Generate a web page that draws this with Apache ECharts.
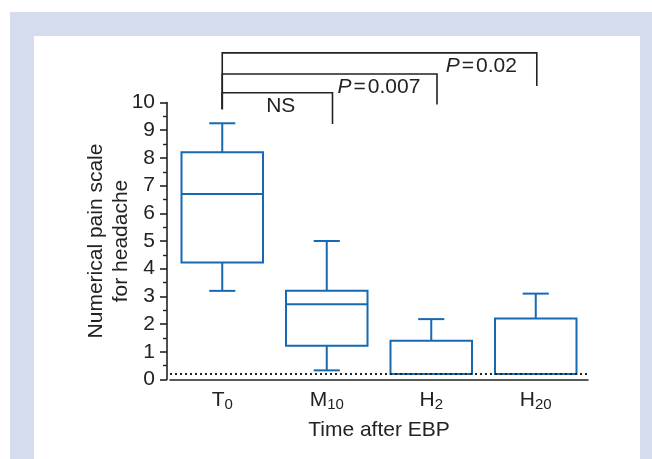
<!DOCTYPE html>
<html>
<head>
<meta charset="utf-8">
<script src="https://cdn.jsdelivr.net/npm/echarts@6/dist/echarts.min.js"></script>
<style>html,body{margin:0;padding:0;background:#fff;}#c{width:652px;height:459px;}</style>
</head>
<body>
<div id="c"></div>
<script>
// ---- data ----
var catBase = ['T', 'M', 'H', 'H'];
var catSub = ['0', '10', '2', '20'];
// [low whisker, Q1, median, Q3, high whisker]
var boxT0 = [3.2, 4.22, 6.7, 8.2, 9.25];
var boxM10 = [0.33, 1.22, 2.72, 3.2, 5.0];
var boxH2 = [0.2, 0.2, 0.2, 1.4, 2.18];
var boxH20 = [0.2, 0.2, 0.2, 2.2, 3.1];
var refLevel = 0.2;
var yTicks = [0, 1, 2, 3, 4, 5, 6, 7, 8, 9, 10];
var compFrom = [0, 0, 0];
var compTo = [1, 2, 3];
var compLabel = ['NS', 'P=0.007', 'P=0.02'];

// ---- layout of annotation brackets (data units) ----
var brLevel = [10.35, 11.03, 11.79];
var brRightOffset = [0.055, 0.055, 0.01];
var brRightDrop = [9.22, 9.93, 10.6];
var brLeftDrop = 9.76;
var lblX = [0.56, 1.5, 2.48];
var lblY = [9.85, 10.57, 11.32];

var BLUE = '#1769b4';
var FONT = '"Liberation Sans", Arial, sans-serif';
var TXT = '#222';
var FS = 21;

var categories = catBase.map(function (b, i) { return b + catSub[i]; });
var boxes = [boxT0, boxM10, boxH2, boxH20];
var boxData = boxes.map(function (b, i) { return [i].concat(b); });

function renderBox(params, api) {
  var x = api.value(0);
  var low = api.coord([x, api.value(1)]);
  var q1 = api.coord([x, api.value(2)]);
  var med = api.coord([x, api.value(3)]);
  var q3 = api.coord([x, api.value(4)]);
  var high = api.coord([x, api.value(5)]);
  var band = api.size([1, 0])[0];
  var hw = band * 0.39, cw = band * 0.125;
  var cx = q1[0];
  var st = { stroke: BLUE, lineWidth: 2, fill: null };
  var ch = [
    { type: 'rect', shape: { x: cx - hw, y: q3[1], width: 2 * hw, height: q1[1] - q3[1] }, style: st },
    { type: 'line', shape: { x1: cx - hw, y1: med[1], x2: cx + hw, y2: med[1] }, style: st },
    { type: 'line', shape: { x1: cx, y1: q3[1], x2: cx, y2: high[1] }, style: st },
    { type: 'line', shape: { x1: cx - cw, y1: high[1], x2: cx + cw, y2: high[1] }, style: st }
  ];
  if (low[1] - q1[1] > 0.5) {
    ch.push({ type: 'line', shape: { x1: cx, y1: q1[1], x2: cx, y2: low[1] }, style: st });
    ch.push({ type: 'line', shape: { x1: cx - cw, y1: low[1], x2: cx + cw, y2: low[1] }, style: st });
  }
  return { type: 'group', children: ch };
}

function renderBracket(params, api) {
  var i = params.dataIndex;
  var band = api.size([1, 0])[0];
  var pL = api.coord([compFrom[i], brLevel[i]]);
  var pR = api.coord([compTo[i], brLevel[i]]);
  var xL = pL[0];
  var xR = pR[0] + brRightOffset[i] * band;
  var yL = pL[1];
  var yDropR = api.coord([compTo[i], brRightDrop[i]])[1];
  var yDropL = api.coord([compFrom[i], brLeftDrop])[1];
  var st = { stroke: '#222', lineWidth: 1.6, fill: null };
  var lp = api.coord([0, lblY[i]]);
  var lx = pL[0] + lblX[i] * band;
  var txt = compLabel[i];
  var rich = txt.indexOf('P=') === 0 ? '{i|P}{e|=}{n|' + txt.slice(2) + '}' : '{n|' + txt + '}';
  return {
    type: 'group',
    children: [
      { type: 'polyline', shape: { points: [[xL, yDropL], [xL, yL], [xR, yL], [xR, yDropR]] }, style: st },
      {
        type: 'text',
        style: {
          text: rich, x: lx, y: lp[1], align: 'center', verticalAlign: 'middle',
          rich: {
            i: { fontStyle: 'italic', fontSize: FS, fontFamily: FONT, fill: TXT },
            e: { fontSize: FS, fontFamily: FONT, fill: TXT, padding: [0, 2, 0, 2] },
            n: { fontSize: FS, fontFamily: FONT, fill: TXT }
          }
        }
      }
    ]
  };
}

var chart = echarts.init(document.getElementById('c'), null, { renderer: 'canvas' });
chart.setOption({
  animation: false,
  backgroundColor: '#fff',
  graphic: [
    { type: 'rect', z: -10, shape: { x: 10, y: 12, width: 642, height: 447 }, style: { fill: '#d4dcee' }, silent: true },
    { type: 'rect', z: -9, shape: { x: 34, y: 36, width: 606, height: 423 }, style: { fill: '#ffffff' }, silent: true }
  ],
  grid: { left: 170, right: 64, top: 102.5, bottom: 79.5 },
  xAxis: {
    type: 'category',
    data: categories,
    name: 'Time after EBP',
    nameLocation: 'middle',
    nameGap: 40,
    nameMoveOverlap: false,
    nameTextStyle: { fontSize: FS, fontFamily: FONT, color: TXT },
    axisLine: { lineStyle: { color: '#222', width: 1.6 } },
    axisTick: { alignWithLabel: true, length: 5, lineStyle: { color: '#222', width: 1.6 } },
    axisLabel: {
      margin: 8,
      formatter: function (v, idx) { return '{b|' + catBase[idx] + '}{s|' + catSub[idx] + '}'; },
      rich: {
        b: { fontSize: FS, fontFamily: FONT, color: TXT },
        s: { fontSize: 15, fontFamily: FONT, color: TXT, padding: [10, 0, 0, 0] }
      }
    },
    splitLine: { show: false }
  },
  yAxis: {
    type: 'value',
    min: yTicks[0], max: yTicks[yTicks.length - 1], interval: 1,
    offset: 3,
    name: 'Numerical pain scale\nfor headache',
    nameLocation: 'middle',
    nameRotate: 90,
    nameGap: 33,
    nameMoveOverlap: false,
    nameTextStyle: { fontSize: FS, fontFamily: FONT, color: TXT, lineHeight: 25 },
    axisLine: { show: true, lineStyle: { color: '#222', width: 1.6 } },
    axisTick: { show: true, length: 7, lineStyle: { color: '#222', width: 1.6 } },
    minorTick: { show: true, splitNumber: 2, length: 4, lineStyle: { color: '#222', width: 1.4 } },
    axisLabel: { fontSize: FS, fontFamily: FONT, color: TXT, margin: 12 },
    splitLine: { show: false }
  },
  series: [
    {
      type: 'custom',
      renderItem: renderBox,
      encode: { x: 0, y: [1, 2, 3, 4, 5] },
      data: boxData,
      clip: false,
      z: 3,
      markLine: {
        silent: true,
        symbol: 'none',
        label: { show: false },
        lineStyle: { color: '#222', type: [2, 3], width: 2 },
        data: [{ yAxis: refLevel }]
      }
    },
    {
      type: 'custom',
      renderItem: renderBracket,
      encode: { x: 0, y: 1 },
      data: compFrom.map(function (f, i) { return [f, brLevel[i]]; }),
      clip: false,
      z: 4
    }
  ]
});
</script>
</body>
</html>
